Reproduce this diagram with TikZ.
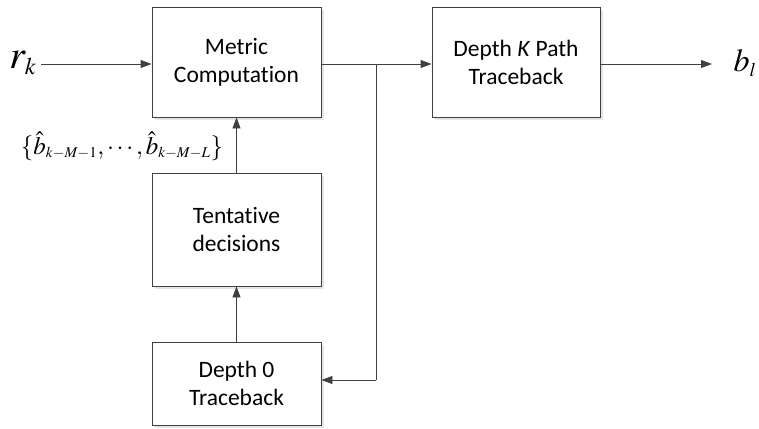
\documentclass[tikz,border=0pt]{standalone}
\usepackage{mathptmx}
\usepackage[no-math]{fontspec}
\setmainfont[RawFeature=-liga]{Carlito}
\usetikzlibrary{arrows.meta}
\definecolor{ln}{HTML}{404040}
\tikzset{
  blk/.style={draw=ln, line width=0.8pt, fill=white, minimum width=169pt, align=center,
    font=\fontsize{23.5}{28}\selectfont, inner sep=0pt},
  arr/.style={draw=ln, line width=0.8pt, -{Triangle[length=11pt,width=8pt]}},
  ln/.style={draw=ln, line width=0.8pt},
}
\begin{document}
\begin{tikzpicture}[x=1pt,y=-1pt]
\useasboundingbox (0,0) rectangle (759,428);
% shadows
\fill[black!10] (155,10) rectangle (324,120);
\fill[black!10] (155,176) rectangle (324,289);
\fill[black!10] (155,345) rectangle (324,428);
\fill[black!10] (435,10) rectangle (603,120);
\node[blk, minimum height=110pt] (metric) at (236.5,62) {Metric\\Computation};
\node[blk, minimum height=113pt] (tent) at (236.5,229.5) {Tentative\\decisions};
\node[blk, minimum height=83pt] (d0) at (236.5,383.5) {Depth 0\\Traceback};
\node[blk, minimum height=110pt, minimum width=168pt] (dk) at (516,62) {Depth \textit{K} Path\\Traceback};
\node (rk) at (23,63) {\fontsize{40}{42}\selectfont $r_{\scriptscriptstyle k}$};
\node (bl) at (745,63) {\fontsize{32}{34}\selectfont $b_{\scriptscriptstyle l}$};
\node (lab) at (122,146) {\fontsize{25}{27}\selectfont $\{\hat b_{\scriptscriptstyle k-M-1},\cdots,\hat b_{\scriptscriptstyle k-M-L}\}$};
\coordinate (rs) at (41,64);
\coordinate (bs) at (712,64);
\coordinate (j) at (376,64);
\coordinate (jb) at (376,380);
\draw[arr] (rs) -- (rs -| metric.west);
\draw[arr] (j -| metric.east) -- (j -| dk.west);
\draw[arr] (j -| dk.east) -- (bs);
\draw[ln] (j) -- (jb);
\draw[arr] (jb) -- (jb -| d0.east);
\draw[arr] (tent.north) -- (metric.south);
\draw[arr] (d0.north) -- (tent.south);
\end{tikzpicture}
\end{document}
